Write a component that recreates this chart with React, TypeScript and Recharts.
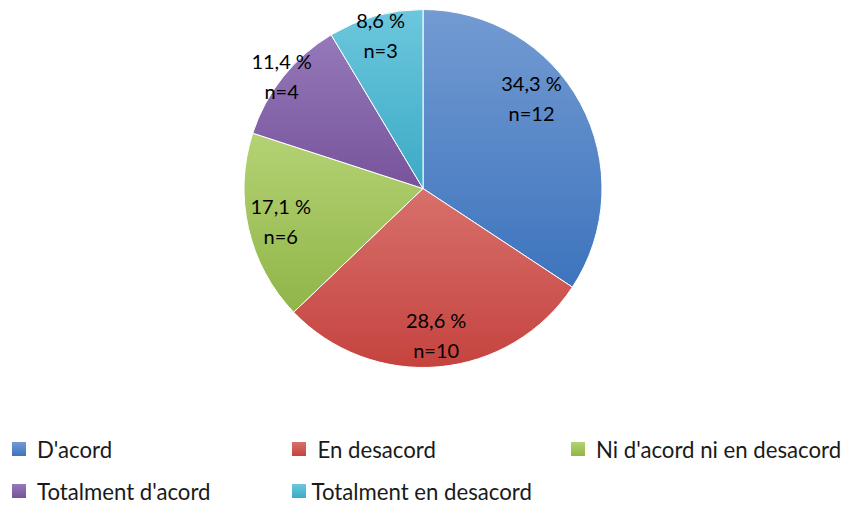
import React from 'react';
import { PieChart, Pie, Cell, Legend } from 'recharts';

const categories = ["D'acord", 'En desacord', "Ni d'acord ni en desacord", "Totalment d'acord", 'Totalment en desacord'];
const counts = [12, 10, 6, 4, 3];
const percentLabels = ['34,3 %', '28,6 %', '17,1 %', '11,4 %', '8,6 %'];

const gradTop = ['#739bd2', '#d8706b', '#b4d274', '#9579b9', '#6cc7dd'];
const gradBottom = ['#3d74bd', '#c5433f', '#90b548', '#77539b', '#3caac6'];
// label placement: radius factor and angle nudge (degrees) relative to mid angle
const labelRadius = [0.79, 0.82, 0.815, 1.01, 0.89];
const labelAngleShift = [11.6, 0, 0, 0, 0];
// gap between legend swatch and text
const legendGap = [11, 12, 11, 11, 6];

const data = categories.map((name, i) => ({ name, value: counts[i], pct: percentLabels[i] }));

const FONT = 'Lato, "Open Sans", sans-serif';
const RAD = Math.PI / 180;

const renderLabel = (props: any) => {
  const { cx, cy, midAngle, outerRadius, index } = props;
  const r = outerRadius * labelRadius[index];
  const a = (midAngle + labelAngleShift[index]) * RAD;
  const x = cx + r * Math.cos(-a);
  const y = cy + r * Math.sin(-a);
  return (
    <text x={x} y={y} textAnchor="middle" fill="#000" fontFamily={FONT} fontSize={20}>
      <tspan x={x} y={y - 15} dominantBaseline="central">{percentLabels[index]}</tspan>
      <tspan x={x} y={y + 15} dominantBaseline="central">{`n=${counts[index]}`}</tspan>
    </text>
  );
};

const LegendContent = () => {
  const rows = [[0, 1, 2], [3, 4]];
  return (
    <div style={{ fontFamily: FONT, fontSize: 22.2, color: '#1a1a1a' }}>
      {rows.map((row, ri) => (
        <div key={ri} style={{ display: 'flex', height: 42, alignItems: 'center' }}>
          {row.map((i) => (
            <div key={i} style={{ width: 279.5, display: 'flex', alignItems: 'center' }}>
              <span
                style={{
                  display: 'inline-block',
                  width: 14,
                  height: 14,
                  marginRight: legendGap[i],
                  background: `linear-gradient(${gradTop[i]}, ${gradBottom[i]})`,
                }}
              />
              <span>{categories[i]}</span>
            </div>
          ))}
        </div>
      ))}
    </div>
  );
};

export default function App() {
  return (
    <div style={{ position: 'absolute', left: 0, top: 0, background: '#fff' }}>
      <PieChart width={847} height={507} margin={{ top: 0, right: 0, bottom: 0, left: 0 }}>
        <defs>
          {categories.map((_, i) => (
            <linearGradient key={i} id={`g${i}`} x1="0" y1="0" x2="0" y2="1">
              <stop offset="0%" stopColor={gradTop[i]} />
              <stop offset="100%" stopColor={gradBottom[i]} />
            </linearGradient>
          ))}
        </defs>
        <Pie
          data={data}
          dataKey="value"
          nameKey="name"
          cx={423}
          cy={188.5}
          outerRadius={179}
          startAngle={90}
          endAngle={-270}
          stroke="#fff"
          strokeWidth={1}
          label={renderLabel}
          labelLine={false}
          isAnimationActive={false}
        >
          {data.map((_, i) => (
            <Cell key={i} fill={`url(#g${i})`} />
          ))}
        </Pie>
        <Legend
          content={<LegendContent />}
          wrapperStyle={{ position: 'absolute', left: 12, top: 428, width: 840 }}
        />
      </PieChart>
    </div>
  );
}
